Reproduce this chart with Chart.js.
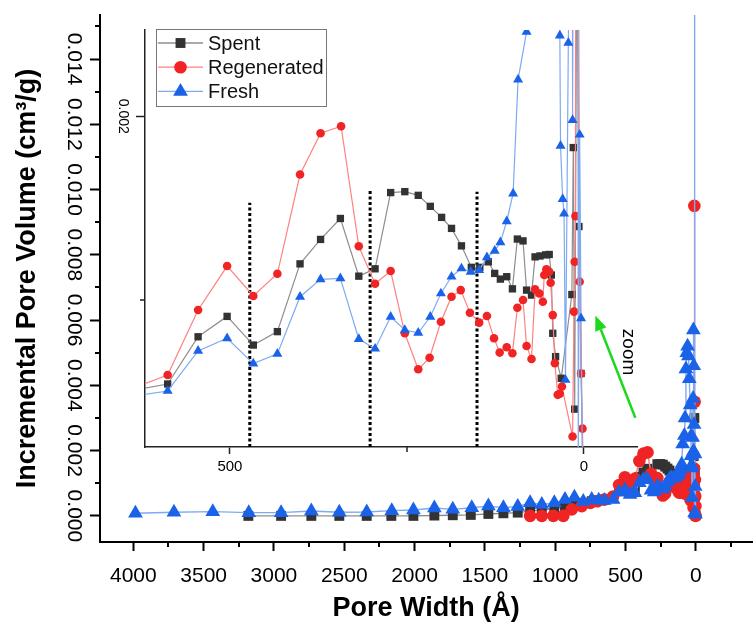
<!DOCTYPE html>
<html>
<head>
<meta charset="utf-8">
<script src="https://cdn.jsdelivr.net/npm/chart.js@4.4.1/dist/chart.umd.min.js"></script>
<style>
  html, body { margin: 0; padding: 0; background: #fff; }
  #wrap { position: relative; width: 754px; height: 626px; }
  #wrap canvas { position: absolute; left: 0; top: 0; }
</style>
</head>
<body>
<div id="wrap">
  <canvas id="mainChart" width="754" height="626"></canvas>
  <canvas id="insetChart" width="754" height="626"></canvas>
</div>
<script>
// Pore width (Å) and incremental pore volume (cm3/g)
const spentWidth = [3182, 2949, 2734, 2535, 2340, 2165, 2008, 1859, 1728, 1600, 1475, 1368, 1266, 1178, 1095, 1006, 930, 863, 800, 740, 690, 650, 588, 545, 504, 467, 433, 401, 372, 344, 318, 295, 273, 253, 234, 217, 201, 187, 173, 159, 147, 135, 126, 118, 109, 101, 94, 86, 81, 74, 69, 62, 54, 49, 46, 44, 40, 32, 17, 15, 13, 10, 7, 4, 1];
const spentVolume = [0, 0, 0, 0, 0, 0, 0, 0.00001, 0.00002, 0.00003, 0.00006, 0.00008, 0.0001, 0.00015, 0.00018, 0.00022, 0.00028, 0.00033, 0.0004, 0.00045, 0.00048, 0.0005, 0.000543, 0.0008, 0.000911, 0.000755, 0.000828, 0.001197, 0.00133, 0.001444, 0.00113, 0.00117, 0.001585, 0.00159, 0.00157, 0.00151, 0.00145, 0.00139, 0.001295, 0.001178, 0.001178, 0.001208, 0.001145, 0.001114, 0.001127, 0.001061, 0.001332, 0.001322, 0.001054, 0.001027, 0.001235, 0.00124, 0.001246, 0.001248, 0.001136, 0.000819, 0.000692, 0.000574, 0.00103, 0.00183, 0.000406, 0.003, 0.0014, 0.0006, 0.00002];

const regenWidth = [1178, 1095, 1013, 942, 882, 811, 750, 700, 650, 588, 545, 504, 467, 433, 401, 372, 343, 318, 295, 273, 253, 234, 218, 202, 187, 174, 161, 148, 137, 127, 119, 109, 101, 94, 86, 81, 74, 69, 63, 58, 56, 53, 49, 47, 44, 41, 37, 34, 31, 16, 14, 13, 12, 10, 8, 6, 4, 2, 1];
const regenVolume = [0, 0, 0, 0, 0.0002, 0.0003, 0.0004, 0.00045, 0.0005, 0.000592, 0.000946, 0.001185, 0.001022, 0.001143, 0.001683, 0.001908, 0.001946, 0.001293, 0.001089, 0.001158, 0.000819, 0.000623, 0.000686, 0.000882, 0.001018, 0.001054, 0.000931, 0.000877, 0.000913, 0.000792, 0.000714, 0.000743, 0.00071, 0.000958, 0.001, 0.00075, 0.000679, 0.001058, 0.001036, 0.000991, 0.001136, 0.001167, 0.001154, 0.001094, 0.000918, 0.000656, 0.000484, 0.00049, 0.000529, 0.000257, 0.000937, 0.001208, 0.001457, 0.0095, 0.0035, 0.0011, 0.0006, 0.0003, 0];

const freshWidth = [3985, 3711, 3435, 3179, 2949, 2734, 2535, 2340, 2162, 2008, 1859, 1728, 1593, 1475, 1368, 1266, 1178, 1095, 1006, 930, 863, 800, 740, 690, 650, 588, 545, 504, 467, 433, 401, 372, 344, 318, 295, 273, 253, 234, 217, 202, 187, 173, 160, 148, 137, 126, 118, 109, 100, 93, 81, 76, 70, 64, 58, 52, 46, 40, 34, 33, 30, 28, 26, 22, 19, 17, 16, 14, 12, 10, 8, 6, 4, 2];
const freshVolume = [0.00008, 0.00011, 0.00013, 0.0001, 0.0001, 0.00015, 0.00011, 0.00012, 0.00016, 0.00018, 0.00024, 0.0002, 0.00025, 0.0003, 0.00025, 0.00029, 0.0004, 0.00035, 0.0004, 0.0005, 0.00057, 0.00044, 0.0005, 0.00048, 0.00047, 0.000505, 0.000723, 0.000792, 0.000654, 0.000707, 0.001018, 0.001113, 0.001118, 0.000788, 0.000735, 0.000909, 0.000837, 0.000822, 0.000909, 0.001036, 0.001127, 0.001172, 0.001154, 0.001163, 0.001232, 0.001268, 0.001314, 0.001429, 0.00158, 0.0022, 0.00246, 0.003, 0.0045, 0.005, 0.0052, 0.0049, 0.0042, 0.0034, 0.00244, 0.00184, 0.00155, 0.00147, 0.000565, 0.0024, 0.0036, 0.0057, 0.00198, 0.0046, 0.0028, 0.02, 0.0001, 0.0019, 0.0009, 0.00005];

const seriesNames = ['Spent', 'Regenerated', 'Fresh'];

// dotted dividers in the zoomed inset
const dividerWidth = [472, 302, 151];
const dividerTop = [0.00153, 0.0016, 0.00159];

// axis ticks
const mainXTicks = [4000, 3500, 3000, 2500, 2000, 1500, 1000, 500, 0];
const mainXMinor = [3750, 3250, 2750, 2250, 1750, 1250, 750, 250, -250];
const mainYTicks = [0, 0.002, 0.004, 0.006, 0.008, 0.010, 0.012, 0.014];
const mainYMinor = [0.001, 0.003, 0.005, 0.007, 0.009, 0.011, 0.013, 0.015];
const insetXTicks = [500, 0];
const insetXMinor = [250];
const insetYTicks = [0.002];
const insetYMinor = [0.001];

const FONT = "'Liberation Sans', Arial, sans-serif";
Chart.defaults.font.family = FONT;
Chart.defaults.color = '#000';

const toPoints = (xs, ys) => xs.map((x, i) => ({ x: x, y: ys[i] }));

const styles = [
  { line: '#8e8e8e', fill: '#333333', shape: 'rect', r: 7, ri: 5.2 },
  { line: '#ff8080', fill: '#f02424', shape: 'circle', r: 6.3, ri: 4.3 },
  { line: '#7eaaf2', fill: '#1a62e8', shape: 'triangle', r: 8.5, ri: 5.8 }
];
const seriesData = [
  toPoints(spentWidth, spentVolume),
  toPoints(regenWidth, regenVolume),
  toPoints(freshWidth, freshVolume)
];
const drawOrder = [2, 1, 0];

function makeDatasets(inset) {
  return seriesData.map((pts, i) => ({
    label: seriesNames[i],
    data: pts,
    order: drawOrder[i],
    borderColor: styles[i].line,
    borderWidth: inset ? 1.2 : 1.4,
    pointStyle: styles[i].shape,
    pointRadius: inset ? styles[i].ri : styles[i].r,
    pointBackgroundColor: styles[i].fill,
    pointBorderColor: styles[i].fill,
    pointBorderWidth: 0,
    tension: 0
  }));
}

// keep the plot box fixed: no extra room for label overhang
function noOverhang(axis) {
  axis.paddingLeft = 0;
  axis.paddingRight = 0;
  axis.paddingTop = 0;
  axis.paddingBottom = 0;
}

function drawMarker(ctx, shape, x, y, r, color) {
  ctx.fillStyle = color;
  ctx.beginPath();
  if (shape === 'rect') {
    const s = r * Math.SQRT1_2;
    ctx.rect(x - s, y - s, 2 * s, 2 * s);
  } else if (shape === 'circle') {
    ctx.arc(x, y, r, 0, Math.PI * 2);
  } else {
    let a = 0;
    ctx.moveTo(x + Math.sin(a) * r, y - Math.cos(a) * r);
    a += Math.PI * 2 / 3;
    ctx.lineTo(x + Math.sin(a) * r, y - Math.cos(a) * r);
    a += Math.PI * 2 / 3;
    ctx.lineTo(x + Math.sin(a) * r, y - Math.cos(a) * r);
    ctx.closePath();
  }
  ctx.fill();
}

function drawMinorTicks(chart, xMinor, yMinor, len, width, color) {
  const { ctx, chartArea, scales } = chart;
  ctx.save();
  ctx.strokeStyle = color;
  ctx.lineWidth = width;
  ctx.beginPath();
  xMinor.forEach(v => {
    const px = Math.round(scales.x.getPixelForValue(v));
    ctx.moveTo(px, chartArea.bottom);
    ctx.lineTo(px, chartArea.bottom + len);
  });
  yMinor.forEach(v => {
    const py = Math.round(scales.y.getPixelForValue(v));
    ctx.moveTo(chartArea.left, py);
    ctx.lineTo(chartArea.left - len, py);
  });
  ctx.stroke();
  ctx.restore();
}

// green "zoom" arrow, in main-chart units
const arrowTail = { x: 430, y: 0.00301 };
const arrowTip = { x: 714, y: 0.00614 };
const zoomLabelAt = { x: 479, y: 0.00502 };

const mainExtras = {
  id: 'mainExtras',
  afterDraw(chart) {
    drawMinorTicks(chart, mainXMinor, mainYMinor, 5, 2, '#000');
    const { ctx, scales: { x, y } } = chart;
    const x0 = x.getPixelForValue(arrowTail.x), y0 = y.getPixelForValue(arrowTail.y);
    const x1 = x.getPixelForValue(arrowTip.x), y1 = y.getPixelForValue(arrowTip.y);
    const ang = Math.atan2(y1 - y0, x1 - x0);
    const head = 15, half = 6;
    const bx = x1 - Math.cos(ang) * head, by = y1 - Math.sin(ang) * head;
    ctx.save();
    ctx.strokeStyle = '#1ed81e';
    ctx.fillStyle = '#1ed81e';
    ctx.lineWidth = 2.5;
    ctx.beginPath();
    ctx.moveTo(x0, y0);
    ctx.lineTo(bx, by);
    ctx.stroke();
    ctx.beginPath();
    ctx.moveTo(x1, y1);
    ctx.lineTo(bx + Math.sin(ang) * half, by - Math.cos(ang) * half);
    ctx.lineTo(bx - Math.sin(ang) * half, by + Math.cos(ang) * half);
    ctx.closePath();
    ctx.fill();
    // rotated "zoom" label
    ctx.translate(x.getPixelForValue(zoomLabelAt.x), y.getPixelForValue(zoomLabelAt.y));
    ctx.rotate(Math.PI / 2);
    ctx.fillStyle = '#000';
    ctx.font = '19px ' + FONT;
    ctx.textAlign = 'center';
    ctx.textBaseline = 'middle';
    ctx.fillText('zoom', 0, 0);
    ctx.restore();
  }
};

const insetExtras = {
  id: 'insetExtras',
  afterDraw(chart) {
    drawMinorTicks(chart, insetXMinor, insetYMinor, 5, 1.5, '#222');
    const ctx = chart.ctx;
    const bx = 156, by = 29, bw = 170, bh = 77;
    ctx.save();
    ctx.fillStyle = '#fff';
    ctx.fillRect(bx, by, bw, bh);
    ctx.strokeStyle = '#777';
    ctx.lineWidth = 1;
    ctx.strokeRect(bx + 0.5, by + 0.5, bw, bh);
    ctx.font = '20px ' + FONT;
    ctx.textBaseline = 'middle';
    ctx.textAlign = 'left';
    seriesNames.forEach((name, i) => {
      const ry = by + 14 + i * 24.2;
      ctx.strokeStyle = styles[i].line;
      ctx.lineWidth = 1.3;
      ctx.beginPath();
      ctx.moveTo(bx + 2, ry);
      ctx.lineTo(bx + 47, ry);
      ctx.stroke();
      drawMarker(ctx, styles[i].shape, bx + 24.5, ry, styles[i].r, styles[i].fill);
      ctx.fillStyle = '#111';
      ctx.fillText(name, bx + 52, ry + 1);
    });
    ctx.restore();
  }
};

new Chart(document.getElementById('mainChart'), {
  type: 'line',
  data: { datasets: makeDatasets(false) },
  options: {
    responsive: false,
    animation: false,
    events: [],
    layout: { autoPadding: false, padding: { top: 15, right: 2, left: 0, bottom: 0 } },
    plugins: { legend: { display: false }, tooltip: { enabled: false } },
    scales: {
      x: {
        type: 'linear',
        reverse: true,
        min: -400,
        max: 4237,
        afterBuildTicks: axis => { axis.ticks = mainXTicks.map(v => ({ value: v })); },
        afterFit: axis => { axis.height = 84; noOverhang(axis); },
        ticks: {
          font: { size: 21 },
          padding: 13,
          maxRotation: 0,
          autoSkip: false,
          callback: v => String(v)
        },
        grid: { drawOnChartArea: false, tickLength: 9, tickWidth: 2, tickColor: '#000' },
        border: { color: '#000', width: 2 },
        title: {
          display: true,
          text: 'Pore Width (Å)',
          font: { size: 27, weight: 'bold' },
          padding: { top: 0, bottom: 1 }
        }
      },
      y: {
        type: 'linear',
        min: -0.0008,
        max: 0.01535,
        afterBuildTicks: axis => { axis.ticks = mainYTicks.map(v => ({ value: v })); },
        afterFit: axis => { axis.width = 100; noOverhang(axis); },
        ticks: {
          font: { size: 21 },
          minRotation: -90,
          maxRotation: -90,
          crossAlign: 'center',
          padding: -10,
          autoSkip: false,
          callback: v => v.toFixed(3)
        },
        grid: { drawOnChartArea: false, tickLength: 10, tickWidth: 2, tickColor: '#000' },
        border: { color: '#000', width: 2 },
        title: {
          display: true,
          text: 'Incremental Pore Volume (cm³/g)',
          font: { size: 27, weight: 'bold' },
          padding: { top: 11, bottom: 0 }
        }
      }
    }
  },
  plugins: [mainExtras]
});

const insetDatasets = makeDatasets(true).concat(dividerWidth.map((w, i) => ({
  label: 'divider' + i,
  data: [{ x: w, y: 0.0002 }, { x: w, y: dividerTop[i] }],
  order: 5,
  borderColor: '#000',
  borderWidth: 3,
  borderDash: [3, 2.5],
  pointRadius: 0
})));

new Chart(document.getElementById('insetChart'), {
  type: 'line',
  data: { datasets: insetDatasets },
  options: {
    responsive: false,
    animation: false,
    events: [],
    layout: { autoPadding: false, padding: { top: 30, right: 117, left: 0, bottom: 0 } },
    plugins: { legend: { display: false }, tooltip: { enabled: false } },
    scales: {
      x: {
        type: 'linear',
        reverse: true,
        min: -75,
        max: 620,
        afterBuildTicks: axis => { axis.ticks = insetXTicks.map(v => ({ value: v })); },
        afterFit: axis => { axis.height = 179; noOverhang(axis); },
        ticks: { font: { size: 15 }, padding: 4, maxRotation: 0, autoSkip: false, callback: v => String(v) },
        grid: { drawOnChartArea: false, tickLength: 7, tickWidth: 1.5, tickColor: '#222' },
        border: { color: '#222', width: 1.5 }
      },
      y: {
        type: 'linear',
        min: 0.0002,
        max: 0.00247,
        afterBuildTicks: axis => { axis.ticks = insetYTicks.map(v => ({ value: v })); },
        afterFit: axis => { axis.width = 145; noOverhang(axis); },
        ticks: {
          font: { size: 14 },
          minRotation: -90,
          maxRotation: -90,
          crossAlign: 'center',
          padding: -4,
          autoSkip: false,
          callback: v => v.toFixed(3)
        },
        grid: { drawOnChartArea: false, tickLength: 9, tickWidth: 1.5, tickColor: '#222' },
        border: { color: '#222', width: 1.5 }
      }
    }
  },
  plugins: [insetExtras]
});
</script>
</body>
</html>
